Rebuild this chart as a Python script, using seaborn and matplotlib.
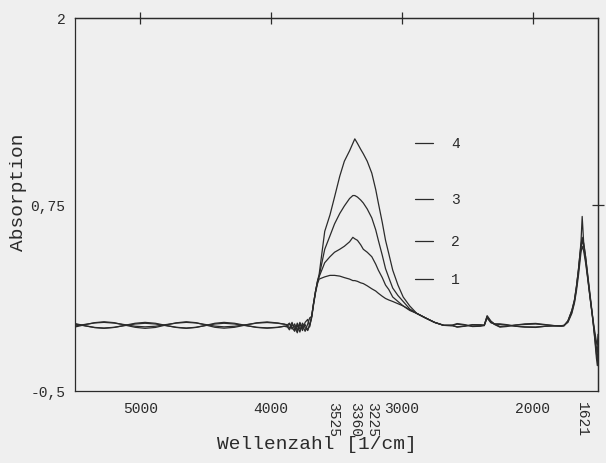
import numpy as np
import pandas as pd
import matplotlib
matplotlib.use("Agg")
import matplotlib.pyplot as plt
import seaborn as sns

# ---------------- data ----------------
wavenumber = [
    5500, 5420, 5350, 5278, 5200, 5121, 5040, 4964, 4885, 4806, 4725, 4649, 4575, 4505,
    4430, 4360, 4280, 4195, 4110, 4031, 3950, 3900,
    3880, 3860, 3840, 3820, 3800, 3780, 3760, 3740, 3720, 3705,
    3690, 3675, 3660, 3645, 3633,
    3590, 3550, 3515, 3475, 3440, 3400, 3375, 3360, 3340, 3315, 3295, 3265, 3230, 3200,
    3180, 3150, 3125, 3100, 3070, 3030, 2990, 2940, 2886, 2820, 2750, 2680,
    2620, 2577, 2520, 2460, 2400, 2370, 2348, 2320, 2290, 2250, 2200, 2130, 2060, 1977,
    1900, 1830, 1780,
    1760, 1730, 1700, 1680, 1665, 1650, 1640, 1630, 1621, 1610, 1595, 1580, 1560, 1540,
    1525, 1512, 1505, 1500,
]

absorb_1 = [
    -0.071, -0.055, -0.042, -0.036, -0.042, -0.058, -0.073, -0.080, -0.074, -0.058, -0.043, -0.036,
    -0.042, -0.057, -0.073, -0.079, -0.073, -0.058, -0.043, -0.037, -0.044, -0.052,
    -0.060, -0.045, -0.085, -0.050, -0.095, -0.040, -0.080, -0.055, -0.090, -0.060,
    -0.010, 0.080, 0.160, 0.220, 0.250,
    0.265, 0.275, 0.275, 0.270, 0.260, 0.250, 0.240, 0.240, 0.235, 0.225, 0.220, 0.205, 0.185,
    0.170, 0.155, 0.135, 0.120, 0.110, 0.100, 0.085, 0.070, 0.045, 0.020, -0.010, -0.040, -0.060,
    -0.060, -0.048, -0.055, -0.068, -0.066, -0.060, 0.000, -0.035, -0.055, -0.072, -0.068, -0.058,
    -0.050, -0.047, -0.055, -0.062, -0.062,
    -0.060, -0.040, 0.020, 0.090, 0.170, 0.270, 0.350, 0.430, 0.470, 0.440, 0.360, 0.260, 0.120,
    -0.010, -0.100, -0.170, -0.190, -0.120,
]

absorb_2 = [
    -0.048, -0.063, -0.075, -0.080, -0.074, -0.060, -0.046, -0.040, -0.046, -0.060, -0.074, -0.080,
    -0.074, -0.061, -0.046, -0.040, -0.046, -0.060, -0.074, -0.079, -0.074, -0.066,
    -0.070, -0.050, -0.075, -0.100, -0.045, -0.085, -0.060, -0.100, -0.050, -0.010,
    0.000, 0.090, 0.170, 0.230, 0.265,
    0.360, 0.400, 0.430, 0.450, 0.470, 0.500, 0.530, 0.520, 0.510, 0.480, 0.450, 0.430, 0.400,
    0.350, 0.310, 0.260, 0.210, 0.180, 0.130, 0.100, 0.070, 0.040, 0.020, -0.010, -0.040, -0.060,
    -0.058, -0.072, -0.066, -0.055, -0.056, -0.058, -0.005, -0.040, -0.050, -0.050, -0.055, -0.066,
    -0.072, -0.074, -0.066, -0.062, -0.064,
    -0.060, -0.035, 0.030, 0.100, 0.190, 0.300, 0.380, 0.460, 0.510, 0.470, 0.380, 0.270, 0.120,
    -0.020, -0.120, -0.210, -0.240, -0.170,
]

absorb_3 = [
    -0.064, -0.053, -0.044, -0.040, -0.045, -0.055, -0.066, -0.070, -0.066, -0.055, -0.045, -0.040,
    -0.044, -0.054, -0.065, -0.070, -0.066, -0.056, -0.045, -0.041, -0.046, -0.052,
    -0.055, -0.080, -0.040, -0.090, -0.060, -0.105, -0.045, -0.075, -0.095, -0.055,
    0.000, 0.090, 0.170, 0.235, 0.270,
    0.450, 0.540, 0.620, 0.690, 0.740, 0.790, 0.810, 0.810, 0.800, 0.780, 0.760, 0.720, 0.660,
    0.580, 0.510, 0.410, 0.320, 0.260, 0.190, 0.140, 0.100, 0.050, 0.020, -0.010, -0.040, -0.060,
    -0.062, -0.052, -0.058, -0.066, -0.063, -0.060, 0.005, -0.030, -0.052, -0.068, -0.064, -0.058,
    -0.054, -0.051, -0.057, -0.063, -0.063,
    -0.062, -0.030, 0.040, 0.110, 0.200, 0.310, 0.400, 0.480, 0.530, 0.490, 0.400, 0.280, 0.130,
    -0.020, -0.140, -0.250, -0.290, -0.220,
]

absorb_4 = [
    -0.052, -0.064, -0.074, -0.078, -0.073, -0.062, -0.051, -0.046, -0.051, -0.062, -0.073, -0.078,
    -0.073, -0.062, -0.051, -0.046, -0.051, -0.062, -0.073, -0.077, -0.073, -0.066,
    -0.065, -0.090, -0.055, -0.070, -0.110, -0.050, -0.095, -0.040, -0.020, -0.070,
    0.000, 0.090, 0.170, 0.240, 0.280,
    0.570, 0.680, 0.800, 0.940, 1.040, 1.110, 1.160, 1.190, 1.160, 1.120, 1.090, 1.040, 0.960,
    0.850, 0.760, 0.630, 0.510, 0.420, 0.310, 0.210, 0.130, 0.070, 0.020, -0.010, -0.040, -0.060,
    -0.062, -0.070, -0.065, -0.057, -0.058, -0.062, -0.010, -0.042, -0.052, -0.054, -0.058, -0.066,
    -0.070, -0.071, -0.066, -0.064, -0.066,
    -0.064, -0.030, 0.040, 0.110, 0.200, 0.310, 0.400, 0.500, 0.670, 0.500, 0.400, 0.290, 0.140,
    -0.010, -0.150, -0.280, -0.330, -0.270,
]

curve_names = ["1", "2", "3", "4"]
x_ticks = [5000, 4000, 3525, 3360, 3225, 3000, 2000, 1621]
x_tick_labels = ["5000", "4000", "3525", "3360", "3225", "3000", "2000", "1621"]
vertical_labels = ["3525", "3360", "3225", "1621"]
top_ticks = [5000, 4000, 3000, 2000]
y_ticks = [-0.5, 0.75, 2]
y_tick_labels = ["-0,5", "0,75", "2"]
right_ticks = [0.75]
x_label = "Wellenzahl [1/cm]"
y_label = "Absorption"

# ---------------- styling ----------------
bg = "#efefef"
ink = "#2b2b2b"

sns.set_style("white")
plt.rcParams["font.family"] = ["Liberation Mono", "DejaVu Sans Mono"]

series = [absorb_1, absorb_2, absorb_3, absorb_4]
df = pd.concat(
    [pd.DataFrame({"Wellenzahl": wavenumber, "Absorption": vals, "Kurve": name})
     for name, vals in zip(curve_names, series)],
    ignore_index=True,
)

fig = plt.figure(figsize=(6.06, 4.64), dpi=100, facecolor=bg)
ax = fig.add_axes([75 / 606, 1 - 392 / 464, 523 / 606, 373 / 464])
ax.set_facecolor(bg)

sns.lineplot(data=df, x="Wellenzahl", y="Absorption", hue="Kurve",
             palette={n: ink for n in curve_names}, estimator=None, sort=False,
             legend=False, linewidth=0.9, ax=ax)

ax.set_xlim(5500, 1500)
ax.set_ylim(-0.5, 2)

ax.set_xticks(x_ticks, x_tick_labels)
ax.set_yticks(y_ticks, y_tick_labels)
ax.tick_params(axis="both", direction="inout", length=8, width=0.9, color=ink,
               labelsize=10.5, labelcolor=ink, pad=3)
for lbl in ax.get_xticklabels():
    if lbl.get_text() in vertical_labels:
        lbl.set_rotation(270)
        lbl.set_va("top")

secx = ax.secondary_xaxis("top")
secx.set_xticks(top_ticks, [""] * len(top_ticks))
secx.tick_params(direction="inout", length=8, width=0.9, color=ink)
secy = ax.secondary_yaxis("right")
secy.set_yticks(right_ticks, [""] * len(right_ticks))
secy.tick_params(direction="inout", length=8, width=0.9, color=ink)
for s in list(ax.spines.values()) + list(secx.spines.values()) + list(secy.spines.values()):
    s.set_linewidth(0.9)
    s.set_color(ink)

ax.set_xlabel(x_label, fontsize=14, color=ink)
ax.set_ylabel(y_label, fontsize=14, color=ink)
ax.xaxis.set_label_coords(0.463, -0.118)
ax.yaxis.set_label_coords(-0.092, 0.536)

# curve labels placed at the height of each band maximum
wn = np.array(wavenumber)
band = wn > 2800
trans = ax.get_yaxis_transform()
for name, vals in zip(curve_names, series):
    yv = np.array(vals)[band].max() - 0.025
    ax.plot([0.650, 0.685], [yv, yv], color=ink, lw=0.9, transform=trans)
    ax.text(0.719, yv, name, transform=trans, fontsize=10.5, color=ink,
            ha="left", va="center")

fig.savefig("out.png", dpi=100, facecolor=bg)
